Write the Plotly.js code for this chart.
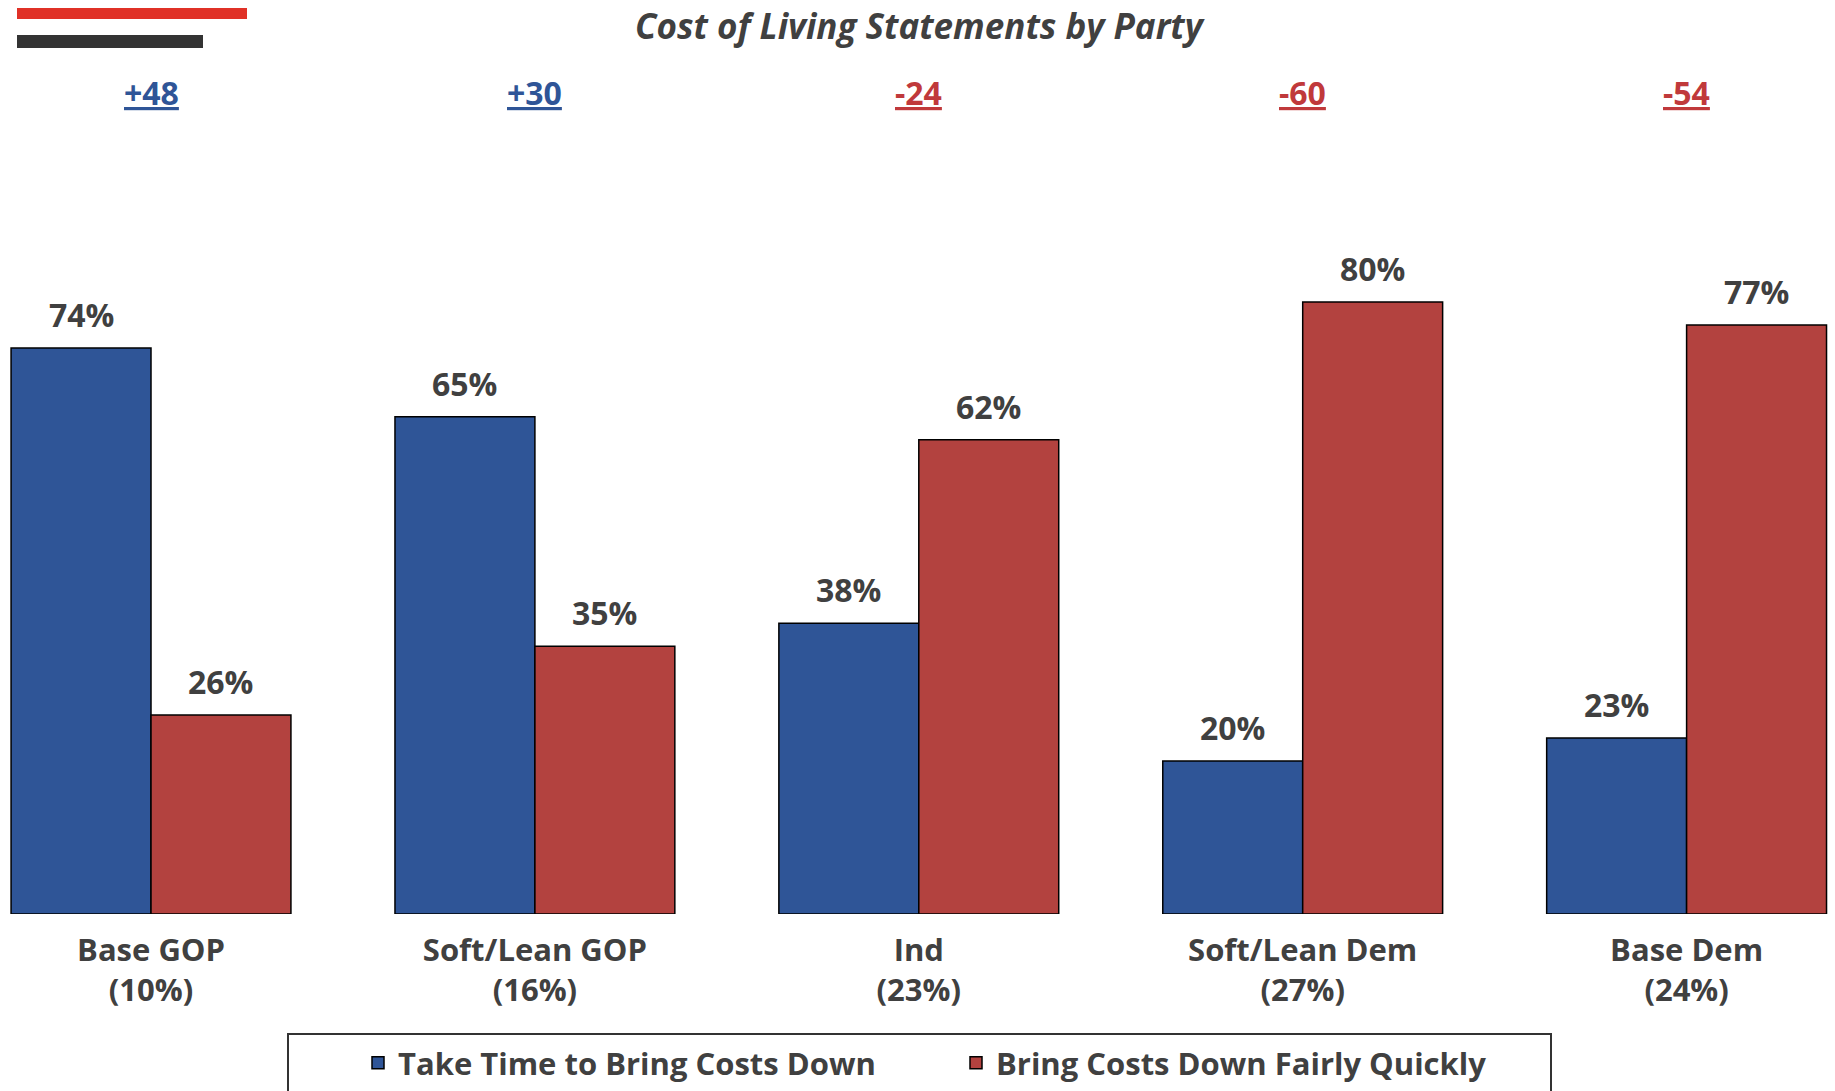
<!DOCTYPE html>
<html>
<head>
<meta charset="utf-8">
<script src="https://cdn.plot.ly/plotly-3.0.1.min.js"></script>
<style>
  html, body { margin: 0; padding: 0; background: #ffffff; }
  #chart { width: 1835px; height: 1091px; }
</style>
</head>
<body>
<div id="chart"></div>
<script>
// ---- Data ----
var categories = ["Base GOP<br>(10%)", "Soft/Lean GOP<br>(16%)", "Ind<br>(23%)", "Soft/Lean Dem<br>(27%)", "Base Dem<br>(24%)"];
var seriesNames = ["Take Time to Bring Costs Down", "Bring Costs Down Fairly Quickly"];
var takeTime = [74, 65, 38, 20, 23];
var bringQuickly = [26, 35, 62, 80, 77];
var netLabels = ["+48", "+30", "-24", "-60", "-54"];
var chartTitle = "Cost of Living Statements by Party";

// ---- Styles ----
var BLUE = "#2F5597";
var RED = "#B3423F";
var TEXT = "#404040";
var FONT = "Open Sans, Roboto, sans-serif";

var W = 1835, H = 1091;
var plotTop = 149, plotBottom = 914;
var BARGAP = 0.271;
function py(p) { return (plotBottom - p) / (plotBottom - plotTop); }
function px(p) { return p / W; }

var xIdx = categories.map(function (c, i) { return i; });

var traces = [
  {
    type: "bar", name: seriesNames[0], x: xIdx, y: takeTime,
    marker: { color: BLUE, line: { color: "#000000", width: 1.5 } },
    hoverinfo: "skip"
  },
  {
    type: "bar", name: seriesNames[1], x: xIdx, y: bringQuickly,
    marker: { color: RED, line: { color: "#000000", width: 1.5 } },
    hoverinfo: "skip"
  }
];

// offset of each grouped bar's centre from its category, in category units
var halfBar = (1 - BARGAP) / 4;

var annotations = [];
netLabels.forEach(function (t, i) {
  var positive = takeTime[i] - bringQuickly[i] > 0;
  annotations.push({
    x: i, xref: "x", y: py(92), yref: "paper", yanchor: "middle",
    text: "<b><u>" + t + "</u></b>", showarrow: false,
    font: { family: FONT, size: 32, color: positive ? BLUE : "#C0393B" }
  });
});
[takeTime, bringQuickly].forEach(function (vals, s) {
  vals.forEach(function (v, i) {
    annotations.push({
      x: i + (s === 0 ? -halfBar : halfBar), xref: "x", y: v, yref: "y",
      yanchor: "bottom", yshift: 10, showarrow: false,
      text: "<b>" + v + "%</b>",
      font: { family: FONT, size: 32, color: TEXT }
    });
  });
});

var shapes = [
  { type: "rect", xref: "paper", yref: "paper", x0: px(17), x1: px(247), y0: py(19), y1: py(8),
    fillcolor: "#E03127", line: { width: 0 } },
  { type: "rect", xref: "paper", yref: "paper", x0: px(17), x1: px(203), y0: py(48), y1: py(35),
    fillcolor: "#333333", line: { width: 0 } },
  { type: "rect", xref: "paper", yref: "paper", x0: px(288), x1: px(1551), y0: py(1110), y1: py(1034),
    fillcolor: "rgba(0,0,0,0)", line: { color: "#333333", width: 2 } }
];

var layout = {
  width: W, height: H,
  paper_bgcolor: "#ffffff", plot_bgcolor: "#ffffff",
  margin: { l: 0, r: 0, t: plotTop, b: H - plotBottom, pad: 0 },
  title: {
    text: "<b><i>" + chartTitle + "</i></b>",
    x: 0.5008, xanchor: "center", y: 1 - 27 / H, yanchor: "middle",
    font: { family: FONT, size: 35, color: TEXT }
  },
  barmode: "group", bargap: BARGAP, bargroupgap: 0,
  xaxis: {
    range: [-151 / 383.9, (W - 151) / 383.9],
    tickmode: "array", tickvals: xIdx, ticktext: categories,
    showgrid: false, zeroline: false, showline: false, ticks: "",
    ticklabelstandoff: 15,
    tickfont: { family: FONT, size: 31, color: TEXT, weight: "bold" },
    fixedrange: true
  },
  yaxis: {
    range: [0, 100], visible: false, showgrid: false, zeroline: false, fixedrange: true
  },
  showlegend: true,
  legend: {
    orientation: "h", x: px(358), xanchor: "left", y: py(1036), yanchor: "top",
    font: { family: FONT, size: 31, color: TEXT, weight: "bold" },
    entrywidth: 553, entrywidthmode: "pixels",
    borderwidth: 0, bgcolor: "rgba(0,0,0,0)"
  },
  annotations: annotations,
  shapes: shapes
};

Plotly.newPlot("chart", traces, layout, { displayModeBar: false, staticPlot: true });
</script>
</body>
</html>
